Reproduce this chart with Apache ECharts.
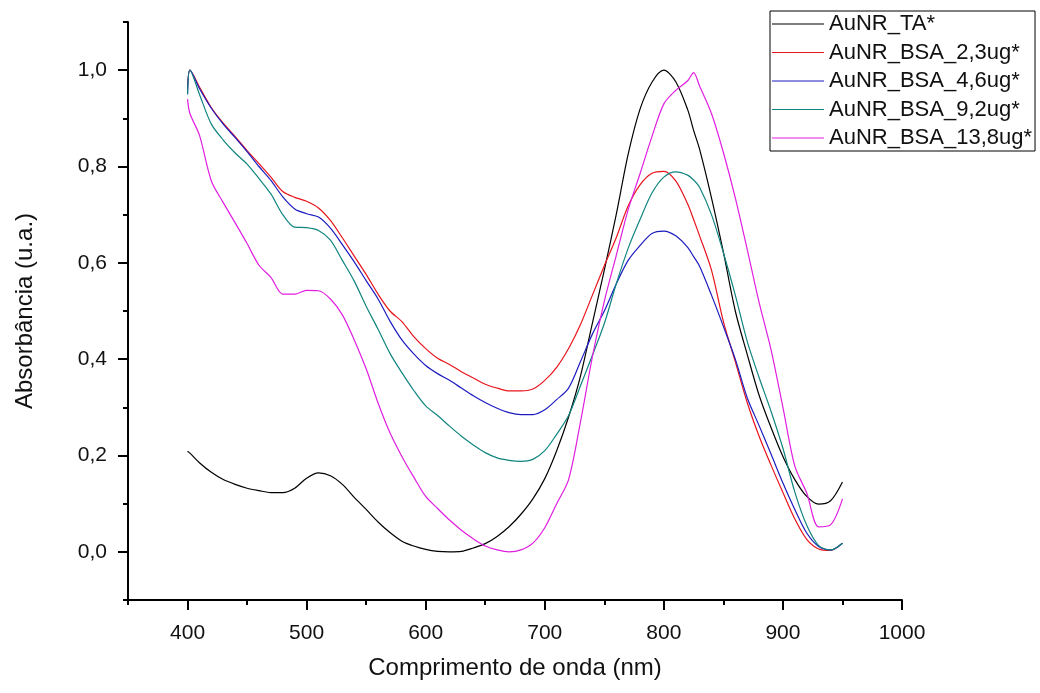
<!DOCTYPE html>
<html>
<head>
<meta charset="utf-8">
<script src="https://cdn.jsdelivr.net/npm/echarts@6/dist/echarts.min.js"></script>
<style>
html,body{margin:0;padding:0;background:#fff;}
#chart{width:1040px;height:693px;}
</style>
</head>
<body>
<div id="chart"></div>
<script>
// Wavelength grid (nm)
const wavelengths = [400,402,410,420,430,440,450,460,470,480,490,500,510,520,530,540,550,560,570,580,590,600,610,620,630,640,650,660,670,680,690,700,710,720,730,740,750,760,770,780,790,800,810,820,825,830,840,850,860,870,880,890,900,910,920,930,940,950];

const seriesNames = ['AuNR_TA*','AuNR_BSA_2,3ug*','AuNR_BSA_4,6ug*','AuNR_BSA_9,2ug*','AuNR_BSA_13,8ug*'];

const absTA = [0.209,0.205,0.185,0.165,0.150,0.140,0.132,0.127,0.123,0.123,0.132,0.153,0.164,0.158,0.140,0.113,0.088,0.062,0.040,0.022,0.012,0.005,0.001,0.000,0.001,0.008,0.017,0.032,0.052,0.078,0.110,0.152,0.210,0.280,0.365,0.475,0.585,0.700,0.825,0.919,0.975,1.000,0.976,0.918,0.875,0.836,0.735,0.622,0.500,0.410,0.325,0.258,0.198,0.150,0.115,0.099,0.106,0.145];

const abs23 = [0.960,1.000,0.965,0.922,0.890,0.862,0.833,0.806,0.778,0.748,0.736,0.728,0.714,0.688,0.652,0.614,0.576,0.535,0.500,0.478,0.447,0.422,0.402,0.389,0.374,0.361,0.348,0.340,0.334,0.334,0.338,0.356,0.383,0.422,0.472,0.533,0.594,0.652,0.718,0.762,0.786,0.790,0.770,0.722,0.690,0.656,0.585,0.478,0.395,0.310,0.240,0.180,0.123,0.068,0.026,0.006,0.003,0.018];

const abs46 = [0.950,1.000,0.962,0.921,0.888,0.860,0.831,0.800,0.771,0.737,0.712,0.702,0.695,0.672,0.638,0.602,0.563,0.525,0.479,0.440,0.411,0.387,0.370,0.356,0.340,0.324,0.310,0.298,0.289,0.285,0.285,0.295,0.316,0.340,0.395,0.452,0.500,0.556,0.605,0.636,0.661,0.666,0.656,0.632,0.613,0.593,0.533,0.468,0.400,0.320,0.262,0.203,0.143,0.088,0.039,0.011,0.004,0.018];

const abs92 = [0.950,1.000,0.950,0.888,0.855,0.828,0.805,0.775,0.743,0.700,0.674,0.673,0.667,0.647,0.605,0.562,0.510,0.462,0.412,0.372,0.335,0.303,0.283,0.261,0.240,0.222,0.206,0.195,0.190,0.188,0.192,0.210,0.244,0.283,0.345,0.408,0.474,0.556,0.630,0.690,0.745,0.778,0.789,0.782,0.772,0.757,0.700,0.621,0.533,0.437,0.362,0.292,0.215,0.124,0.055,0.013,0.004,0.018];

const abs138 = [0.940,0.910,0.865,0.770,0.725,0.683,0.640,0.595,0.570,0.535,0.535,0.543,0.542,0.525,0.492,0.440,0.380,0.309,0.247,0.198,0.155,0.115,0.090,0.066,0.045,0.027,0.012,0.004,0.000,0.004,0.018,0.050,0.100,0.150,0.270,0.405,0.520,0.615,0.710,0.785,0.862,0.930,0.958,0.978,0.995,0.967,0.910,0.829,0.735,0.628,0.518,0.420,0.300,0.178,0.122,0.052,0.056,0.110];

const seriesValues = [absTA, abs23, abs46, abs92, abs138];
const seriesColors = ['#000000','#e8141c','#1c1cc0','#10857f','#e01ee0'];

const xMajorTicks = [400,500,600,700,800,900,1000];
const yMajorTicks = [0,0.2,0.4,0.6,0.8,1.0];

const pair = (vals) => wavelengths.map((w,i)=>[w, vals[i]]);

const chart = echarts.init(document.getElementById('chart'), null, {renderer:'canvas'});
const FONT = 'Liberation Sans, Arial, sans-serif';
const axisLine = {show:true, onZero:false, lineStyle:{color:'#000', width:2}};

chart.setOption({
  animation:false,
  backgroundColor:'#fff',
  grid:{left:128, right:138, top:22, bottom:93, containLabel:false},
  legend:{
    orient:'vertical', left:770, top:11,
    padding:[2,3,2,2],
    itemWidth:52, itemHeight:2, itemGap:6.5,
    icon:'path://M0,0H100V1.5H0Z',
    borderColor:'#000', borderWidth:1,
    textStyle:{fontFamily:FONT, fontSize:22, color:'#111'},
    data:seriesNames
  },
  xAxis:[{
    type:'value', min:350, max:1000, interval:50,
    name:'Comprimento de onda (nm)', nameLocation:'middle', nameGap:56,
    nameTextStyle:{fontFamily:FONT, fontSize:24, color:'#111'},
    axisLine:axisLine,
    axisTick:{show:true, inside:false, length:10, customValues:xMajorTicks, lineStyle:{color:'#000', width:2}},
    axisLabel:{show:true, customValues:xMajorTicks, margin:23, fontFamily:FONT, fontSize:21, color:'#111',
      formatter:(v)=>String(v)},
    splitLine:{show:false}
  },{
    type:'value', min:350, max:1000, interval:50, position:'bottom',
    axisLine:{show:false, onZero:false},
    axisTick:{show:true, length:5, lineStyle:{color:'#000', width:2}},
    axisLabel:{show:false}, splitLine:{show:false}
  }],
  yAxis:[{
    type:'value', min:-0.1, max:1.1, interval:0.1,
    name:'Absorbância (u.a.)', nameLocation:'middle', nameGap:91,
    nameTextStyle:{fontFamily:FONT, fontSize:24, color:'#111'},
    axisLine:axisLine,
    axisTick:{show:true, inside:false, length:10, customValues:yMajorTicks, lineStyle:{color:'#000', width:2}},
    axisLabel:{show:true, customValues:yMajorTicks, margin:21, fontFamily:FONT, fontSize:21, color:'#111',
      formatter:(v)=>v.toFixed(1).replace('.',',')},
    splitLine:{show:false}
  },{
    type:'value', min:-0.1, max:1.1, interval:0.1, position:'left',
    axisLine:{show:false, onZero:false},
    axisTick:{show:true, length:5, lineStyle:{color:'#000', width:2}},
    axisLabel:{show:false}, splitLine:{show:false}
  }],
  series: seriesNames.map((name,i)=>({
    name:name, type:'line', xAxisIndex:0, yAxisIndex:0,
    data:pair(seriesValues[i]),
    showSymbol:false, symbol:'none', smooth:0.3,
    lineStyle:{color:seriesColors[i], width:1.2},
    itemStyle:{color:seriesColors[i]}
  }))
});
</script>
</body>
</html>
